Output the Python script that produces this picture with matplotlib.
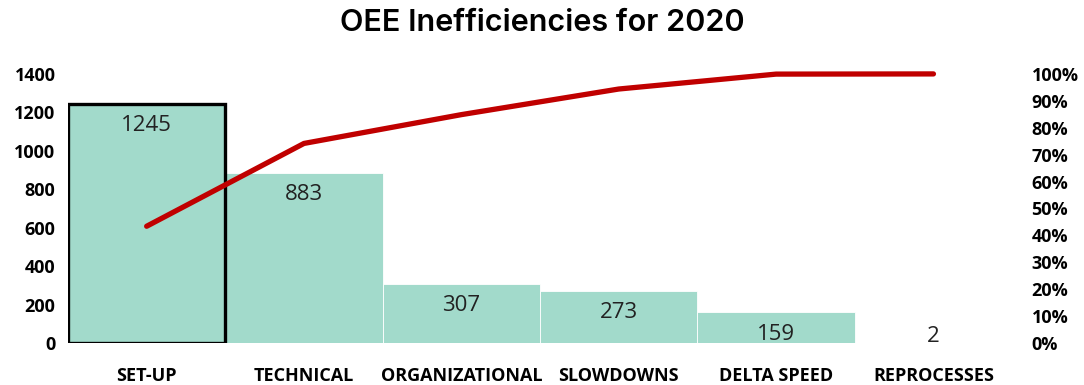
import numpy as np
import matplotlib
matplotlib.use("Agg")
import matplotlib.pyplot as plt
from matplotlib.ticker import PercentFormatter

# OEE loss categories for 2020 (hours)
categories = ["SET-UP", "TECHNICAL", "ORGANIZATIONAL", "SLOWDOWNS", "DELTA SPEED", "REPROCESSES"]
hours = [1245, 883, 307, 273, 159, 2]
left_ticks = [0, 200, 400, 600, 800, 1000, 1200, 1400]
right_ticks = [0, 10, 20, 30, 40, 50, 60, 70, 80, 90, 100]

bar_color = "#a2dacb"
line_color = "#c00000"

plt.rcParams["font.family"] = ["Open Sans", "DejaVu Sans"]

cum_pct = np.cumsum(hours) / np.sum(hours) * 100
x = np.arange(len(categories))

fig = plt.figure(figsize=(10.84, 3.85), dpi=100)
ax = fig.add_axes([0.0627, 0.109, 0.871, 0.699])
ax2 = ax.twinx()

bars = ax.bar(x, hours, width=1.0, color=bar_color, edgecolor="white", linewidth=0.6, zorder=1)
# highlight the biggest contributor
bars[0].set_edgecolor("black")
bars[0].set_linewidth(2.4)
bars[0].set_zorder(3)

for xi, v in zip(x, hours):
    if v > 100:
        ax.annotate(str(v), (xi, v), xytext=(0, -8), textcoords="offset points",
                    ha="center", va="top", fontsize=16, color="#222222", zorder=5)
    else:
        ax.annotate(str(v), (xi, v), xytext=(0, -3), textcoords="offset points",
                    ha="center", va="bottom", fontsize=16, color="#222222", zorder=5)

ax.set_xlim(-0.5, len(categories) - 0.5)
ax.set_ylim(0, 1400)
ax.set_yticks(left_ticks)
ax.set_xticks(x)
ax.set_xticklabels(categories, fontsize=13, fontweight="bold")
ax.tick_params(axis="x", length=0, pad=17)
ax.tick_params(axis="y", length=0, pad=9, labelsize=13)
for lab in ax.get_yticklabels():
    lab.set_fontweight("bold")

ax2.plot(x, cum_pct, color=line_color, linewidth=3.8, solid_capstyle="round",
         solid_joinstyle="round", zorder=4, clip_on=False)
ax2.set_ylim(0, 100)
ax2.set_yticks(right_ticks)
ax2.yaxis.set_major_formatter(PercentFormatter(decimals=0))
ax2.tick_params(axis="y", length=0, pad=14, labelsize=13)
for lab in ax2.get_yticklabels():
    lab.set_fontweight("bold")

ax2.set_zorder(ax.get_zorder() + 1)
ax2.patch.set_visible(False)
for a in (ax, ax2):
    for s in a.spines.values():
        s.set_visible(False)

fig.text(0.5, 0.940, "OEE Inefficiencies for 2020", ha="center", va="center",
         fontsize=22, fontweight="semibold", family=["Inter", "DejaVu Sans"])

fig.savefig("out.png", dpi=100)
